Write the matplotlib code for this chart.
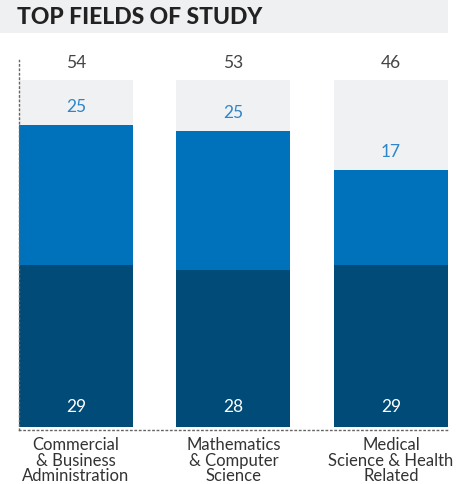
import matplotlib
matplotlib.use("Agg")
import matplotlib.pyplot as plt
from matplotlib.patches import Rectangle

categories = ["Commercial\n& Business\nAdministration",
              "Mathematics\n& Computer\nScience",
              "Medical\nScience & Health\nRelated"]
bottom_vals = [29, 28, 29]
top_vals = [25, 25, 17]
totals = [54, 53, 46]
bg_max = 62

W, H = 470, 484
fig = plt.figure(figsize=(W / 100, H / 100), dpi=100)
plt.rcParams['font.family'] = ['Lato', 'DejaVu Sans']

# title band
fig.patches.append(Rectangle((0, 1 - 33 / H), 448 / W, 33 / H, transform=fig.transFigure,
                             facecolor="#EFF0F2", edgecolor="none", zorder=0))
fig.text(17 / W, 1 - 18 / H, "TOP FIELDS OF STUDY", fontsize=16.5, fontweight="black",
         color="#222222", va="center", ha="left")

ax = fig.add_axes([19 / W, (H - 430) / H, (450 - 19) / W, 370 / H])
ax.set_xlim(-0.362, 2.375)
ax.set_ylim(-0.54, 65.66)

x = range(len(categories))
width = 0.724
navy = "#014B78"
blue = "#0072BB"
ax.bar(x, [bg_max] * len(categories), width=width, color="#F0F1F3", zorder=1)
ax.bar(x, bottom_vals, width=width, color=navy, zorder=2)
ax.bar(x, top_vals, width=width, bottom=bottom_vals, color=blue, zorder=2)

for i in x:
    ax.text(i, 3.5, str(bottom_vals[i]), ha="center", va="center", color="white", fontsize=12.5)
    ax.text(i, bottom_vals[i] + top_vals[i] + 3.2, str(top_vals[i]), ha="center", va="center",
            color="#2E86C8", fontsize=12.5)
    ax.text(i, 65.2, str(totals[i]), ha="center", va="center", color="#444444", fontsize=12.5)

ax.set_xticks(list(x))
ax.set_xticklabels(categories, fontsize=12, color="#333333", linespacing=0.98)
ax.tick_params(axis="x", length=0, pad=5)
ax.set_yticks([])
for s in ["top", "right"]:
    ax.spines[s].set_visible(False)
for s in ["left", "bottom"]:
    ax.spines[s].set_linestyle((0, (1, 2.2)))
    ax.spines[s].set_linewidth(1.0)
    ax.spines[s].set_color("#666666")
ax.patch.set_alpha(0)

fig.savefig("out.png", dpi=100)
